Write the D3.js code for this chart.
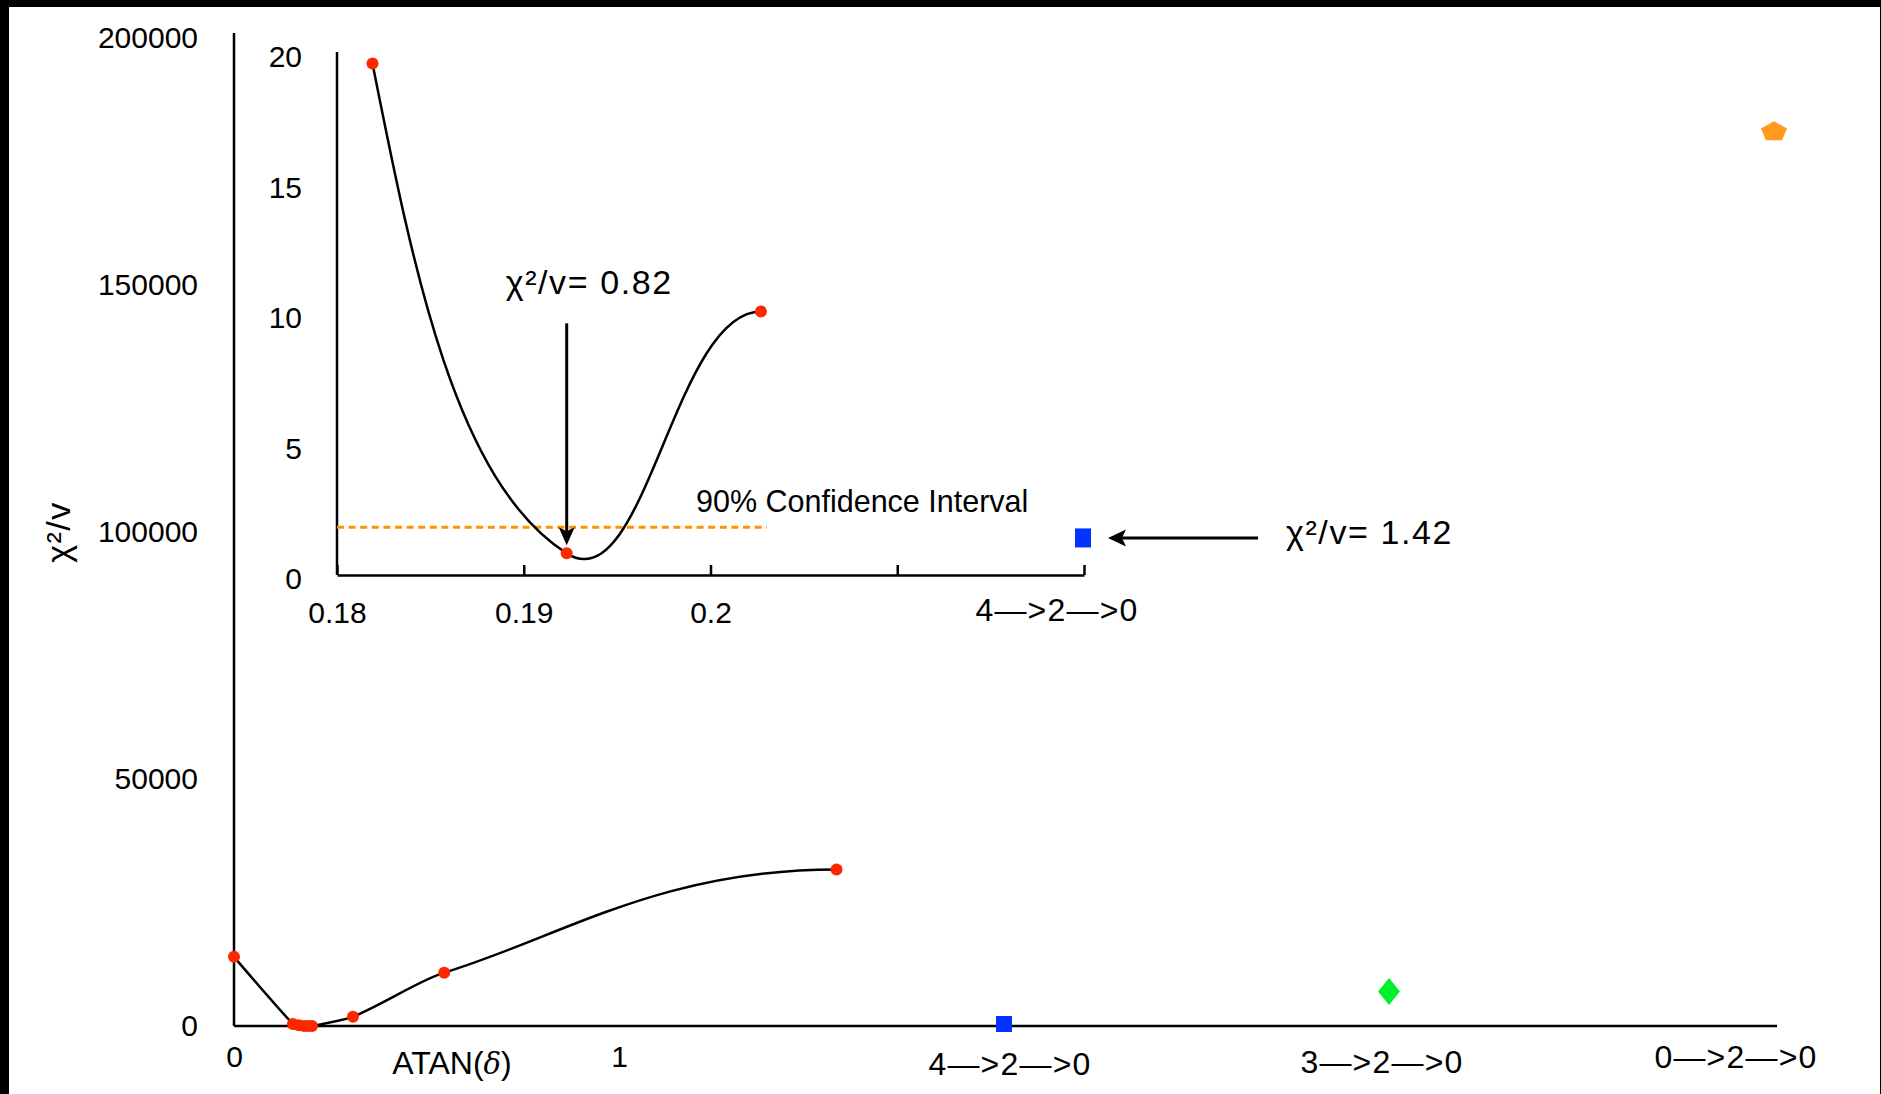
<!DOCTYPE html>
<html>
<head>
<meta charset="utf-8">
<script src="https://cdn.jsdelivr.net/npm/d3@7"></script>
<style>
  body { margin: 0; background: #000; }
  text { font-family: 'Liberation Sans', Arial, sans-serif; fill: #000; }
</style>
</head>
<body>
<div id="chart"></div>
<script>
/* globals d3 */

// main curve: ATAN(delta) vs reduced chi-square
let mainX = [0, 0.153, 0.168, 0.1819, 0.1923, 0.2027, 0.309, 0.546, 1.565]
let mainChi = [14000, 400, 150, 19.6, 0.83, 10.1, 1880, 10800, 31700]

// zoomed-in part near the minimum
let insetX = [0.1819, 0.1923, 0.2027]
let insetChi = [19.6, 0.83, 10.1]

// other cascades
let cascades = ['4—>2—>0', '3—>2—>0', '0—>2—>0']
let cascadePos = [2, 3, 4]
let cascadeChi = [1.42, 7000, 181000]
let cascadeColor = ['#0433ff', '#00f02c', '#ff9a1f']

let mainYTicks = [0, 50000, 100000, 150000, 200000]
let mainXTicks = [0, 1]
let insetYTicks = [0, 5, 10, 15, 20]
let insetXTicks = [0.18, 0.19, 0.2, 0.21, 0.22]
let insetXLabels = ['0.18', '0.19', '0.2', '', '']

let ci90 = 1.83
let bestChi = '0.82'

let W = 1881
let H = 1094
let red = '#ff2600'

let xMain = d3.scaleLinear().domain([0, 4]).range([234, 1774])
let yMain = d3.scaleLinear().domain([0, 200000]).range([1026, 38])
let xIn = d3.scaleLinear().domain([0.18, 0.22]).range([337, 1084])
let yIn = d3.scaleLinear().domain([0, 20]).range([575, 53])

// smoothed line like the spreadsheet one: bezier pieces, tangent from the
// neighbours, loose start and a flat finish
function smoothCurve (context) {
  let pts = []
  let fOut = 0.3
  let fIn = 0.25
  function dir (i) {
    let a = pts[i - 1]
    let b = pts[i + 1]
    let dx = b[0] - a[0]
    let dy = b[1] - a[1]
    let l = Math.sqrt(dx * dx + dy * dy) || 1
    return [dx / l, dy / l]
  }
  return {
    areaStart () {},
    areaEnd () {},
    lineStart () { pts = [] },
    point (x, y) { pts.push([+x, +y]) },
    lineEnd () {
      let n = pts.length
      if (!n) return
      context.moveTo(pts[0][0], pts[0][1])
      if (n === 2) {
        context.lineTo(pts[1][0], pts[1][1])
        return
      }
      for (let i = 0; i < n - 1; i++) {
        let p = pts[i]
        let q = pts[i + 1]
        let L = Math.hypot(q[0] - p[0], q[1] - p[1])
        let c1, c2
        if (i + 1 < n - 1) {
          let d = dir(i + 1)
          c2 = [q[0] - d[0] * L * fIn, q[1] - d[1] * L * fIn]
        } else {
          c2 = [q[0] - (q[0] - p[0]) * 0.45, q[1]]
        }
        if (i > 0) {
          let d = dir(i)
          c1 = [p[0] + d[0] * L * fOut, p[1] + d[1] * L * fOut]
        } else {
          c1 = [(p[0] + c2[0]) / 2, (p[1] + c2[1]) / 2]
        }
        context.bezierCurveTo(c1[0], c1[1], c2[0], c2[1], q[0], q[1])
      }
    }
  }
}

function main () {
  let svg = d3.select('#chart').append('svg').attr('width', W).attr('height', H)
  svg.append('rect').attr('width', W).attr('height', H).attr('fill', '#000')
  svg.append('rect').attr('x', 9).attr('y', 7).attr('width', W - 10).attr('height', H - 7).attr('fill', '#fff')

  drawMain(svg)
  drawInset(svg)
}

function drawMain (svg) {
  let yAx = svg.append('g')
      .attr('transform', 'translate(' + xMain(0) + ',0)')
      .call(d3.axisLeft(yMain).tickValues(mainYTicks).tickSize(0).tickPadding(36).tickFormat(d3.format('d')))
  let xAx = svg.append('g')
      .attr('transform', 'translate(0,' + yMain(0) + ')')
      .call(d3.axisBottom(xMain).tickValues(mainXTicks).tickSize(0).tickPadding(20).tickFormat(d3.format('d')))
  styleAxis(yAx)
  styleAxis(xAx)
  yAx.select('.domain').attr('d', 'M0,' + yMain(0) + 'V33')
  xAx.select('.domain').attr('d', 'M' + xMain(0) + ',0H1777')

  // category labels along the bottom
  let nudge = [[6, 49], [-7, 47], [-38, 42]]
  svg.selectAll('text.cat')
      .data(cascades)
      .enter().append('text')
        .attr('class', 'cat')
        .attr('x', (d, i) => xMain(cascadePos[i]) + nudge[i][0])
        .attr('y', (d, i) => yMain(0) + nudge[i][1])
        .attr('text-anchor', 'middle')
        .attr('font-size', 32)
        .attr('letter-spacing', 1.2)
        .text((d) => d)

  let t = svg.append('text')
      .attr('x', 452).attr('y', yMain(0) + 48)
      .attr('text-anchor', 'middle').attr('font-size', 32)
  t.append('tspan').text('ATAN(')
  t.append('tspan').attr('font-style', 'italic').attr('font-family', 'DejaVu Serif').attr('font-size', 29).text('δ')
  t.append('tspan').text(')')

  svg.append('text')
      .attr('transform', 'translate(58,532) rotate(-90)')
      .attr('text-anchor', 'middle').attr('dominant-baseline', 'central')
      .attr('font-size', 34).attr('letter-spacing', 1.5)
      .text('χ²/v')

  let pts = mainX.map((x, i) => [xMain(x), yMain(mainChi[i])])
  svg.append('path')
      .attr('d', d3.line().curve(smoothCurve)(pts))
      .attr('fill', 'none').attr('stroke', '#000').attr('stroke-width', 2.5)
  svg.selectAll('circle.main')
      .data(pts)
      .enter().append('circle')
        .attr('class', 'main')
        .attr('cx', (d) => d[0]).attr('cy', (d) => d[1])
        .attr('r', 6).attr('fill', red)

  // markers for the other cascades
  let cx = cascadePos.map((p) => xMain(p))
  let cy = cascadeChi.map((v) => yMain(v))
  svg.append('rect')
      .attr('x', cx[0] - 8).attr('y', cy[0] - 10).attr('width', 16).attr('height', 16)
      .attr('fill', cascadeColor[0])
  svg.append('path')
      .attr('d', diamond(cx[1], cy[1], 11, 13.5))
      .attr('fill', cascadeColor[1])
  svg.append('path')
      .attr('d', pentagon(cx[2], cy[2], 13.7, 10.5))
      .attr('fill', cascadeColor[2])
}

function drawInset (svg) {
  let yAx = svg.append('g')
      .attr('transform', 'translate(' + xIn(0.18) + ',0)')
      .call(d3.axisLeft(yIn).tickValues(insetYTicks).tickSize(0).tickPadding(35))
  yAx.selectAll('text').attr('dy', '0.45em')
  let xAx = svg.append('g')
      .attr('transform', 'translate(0,' + yIn(0) + ')')
      .call(d3.axisBottom(xIn).tickValues(insetXTicks).tickSizeInner(-10).tickSizeOuter(0).tickPadding(27)
        .tickFormat((d, i) => insetXLabels[i]))
  styleAxis(yAx)
  styleAxis(xAx)
  yAx.select('.domain').attr('d', 'M0,' + yIn(0) + 'V52')

  svg.append('text')
      .attr('x', xIn(0.22) - 27).attr('y', yIn(0) + 46)
      .attr('text-anchor', 'middle').attr('font-size', 32)
      .attr('letter-spacing', 1.2)
      .text(cascades[0])

  // 90% confidence level
  svg.append('line')
      .attr('x1', xIn(0.18)).attr('x2', xIn(insetX[2]) + 6)
      .attr('y1', yIn(ci90)).attr('y2', yIn(ci90))
      .attr('stroke', '#ff9300').attr('stroke-width', 3).attr('stroke-dasharray', '7,4.6')
  svg.append('text')
      .attr('x', 696).attr('y', yIn(ci90) - 15)
      .attr('font-size', 30.5)
      .text('90% Confidence Interval')

  let pts = insetX.map((x, i) => [xIn(x), yIn(insetChi[i])])
  svg.append('path')
      .attr('d', d3.line().curve(smoothCurve)(pts))
      .attr('fill', 'none').attr('stroke', '#000').attr('stroke-width', 2.5)
  svg.selectAll('circle.inset')
      .data(pts)
      .enter().append('circle')
        .attr('class', 'inset')
        .attr('cx', (d) => d[0]).attr('cy', (d) => d[1])
        .attr('r', 6).attr('fill', red)

  // arrow to the minimum
  let ax = pts[1][0]
  let tip = pts[1][1] - 8
  svg.append('line')
      .attr('x1', ax).attr('x2', ax).attr('y1', tip - 222).attr('y2', tip - 14)
      .attr('stroke', '#000').attr('stroke-width', 3)
  svg.append('path')
      .attr('d', 'M' + ax + ',' + tip + 'l-8,-18l8,4l8,-4z')
      .attr('fill', '#000')
  svg.append('text')
      .attr('x', ax - 61).attr('y', tip - 251)
      .attr('font-size', 34).attr('letter-spacing', 1.6)
      .text('χ²/v= ' + bestChi)

  // the 4->2->0 point
  let bx = xIn(0.22)
  let by = yIn(cascadeChi[0])
  svg.append('rect')
      .attr('x', bx - 9).attr('y', by - 9.5).attr('width', 16).attr('height', 19)
      .attr('fill', cascadeColor[0])
  let tx = bx + 24
  svg.append('line')
      .attr('x1', tx + 14).attr('x2', tx + 150).attr('y1', by).attr('y2', by)
      .attr('stroke', '#000').attr('stroke-width', 3)
  svg.append('path')
      .attr('d', 'M' + tx + ',' + by + 'l18,-8.5l-4,8.5l4,8.5z')
      .attr('fill', '#000')
  svg.append('text')
      .attr('x', tx + 178).attr('y', by + 6)
      .attr('font-size', 34).attr('letter-spacing', 1.6)
      .text('χ²/v= ' + cascadeChi[0])
}

function styleAxis (g) {
  g.select('.domain').attr('stroke', '#000').attr('stroke-width', 2.5)
  g.selectAll('.tick line').attr('stroke', '#000').attr('stroke-width', 2.5)
  g.selectAll('text').attr('font-size', 30).attr('fill', '#000')
      .attr('font-family', "'Liberation Sans', Arial, sans-serif")
}

function diamond (x, y, rx, ry) {
  let p = d3.path()
  p.moveTo(x, y - ry)
  p.lineTo(x + rx, y)
  p.lineTo(x, y + ry)
  p.lineTo(x - rx, y)
  p.closePath()
  return p.toString()
}

function pentagon (x, y, rx, ry) {
  let p = d3.path()
  for (let k = 0; k < 5; k++) {
    let a = -Math.PI / 2 + k * 2 * Math.PI / 5
    let px = x + rx * Math.cos(a)
    let py = y + ry * Math.sin(a)
    if (k === 0) p.moveTo(px, py)
    else p.lineTo(px, py)
  }
  p.closePath()
  return p.toString()
}

main()
</script>
</body>
</html>
